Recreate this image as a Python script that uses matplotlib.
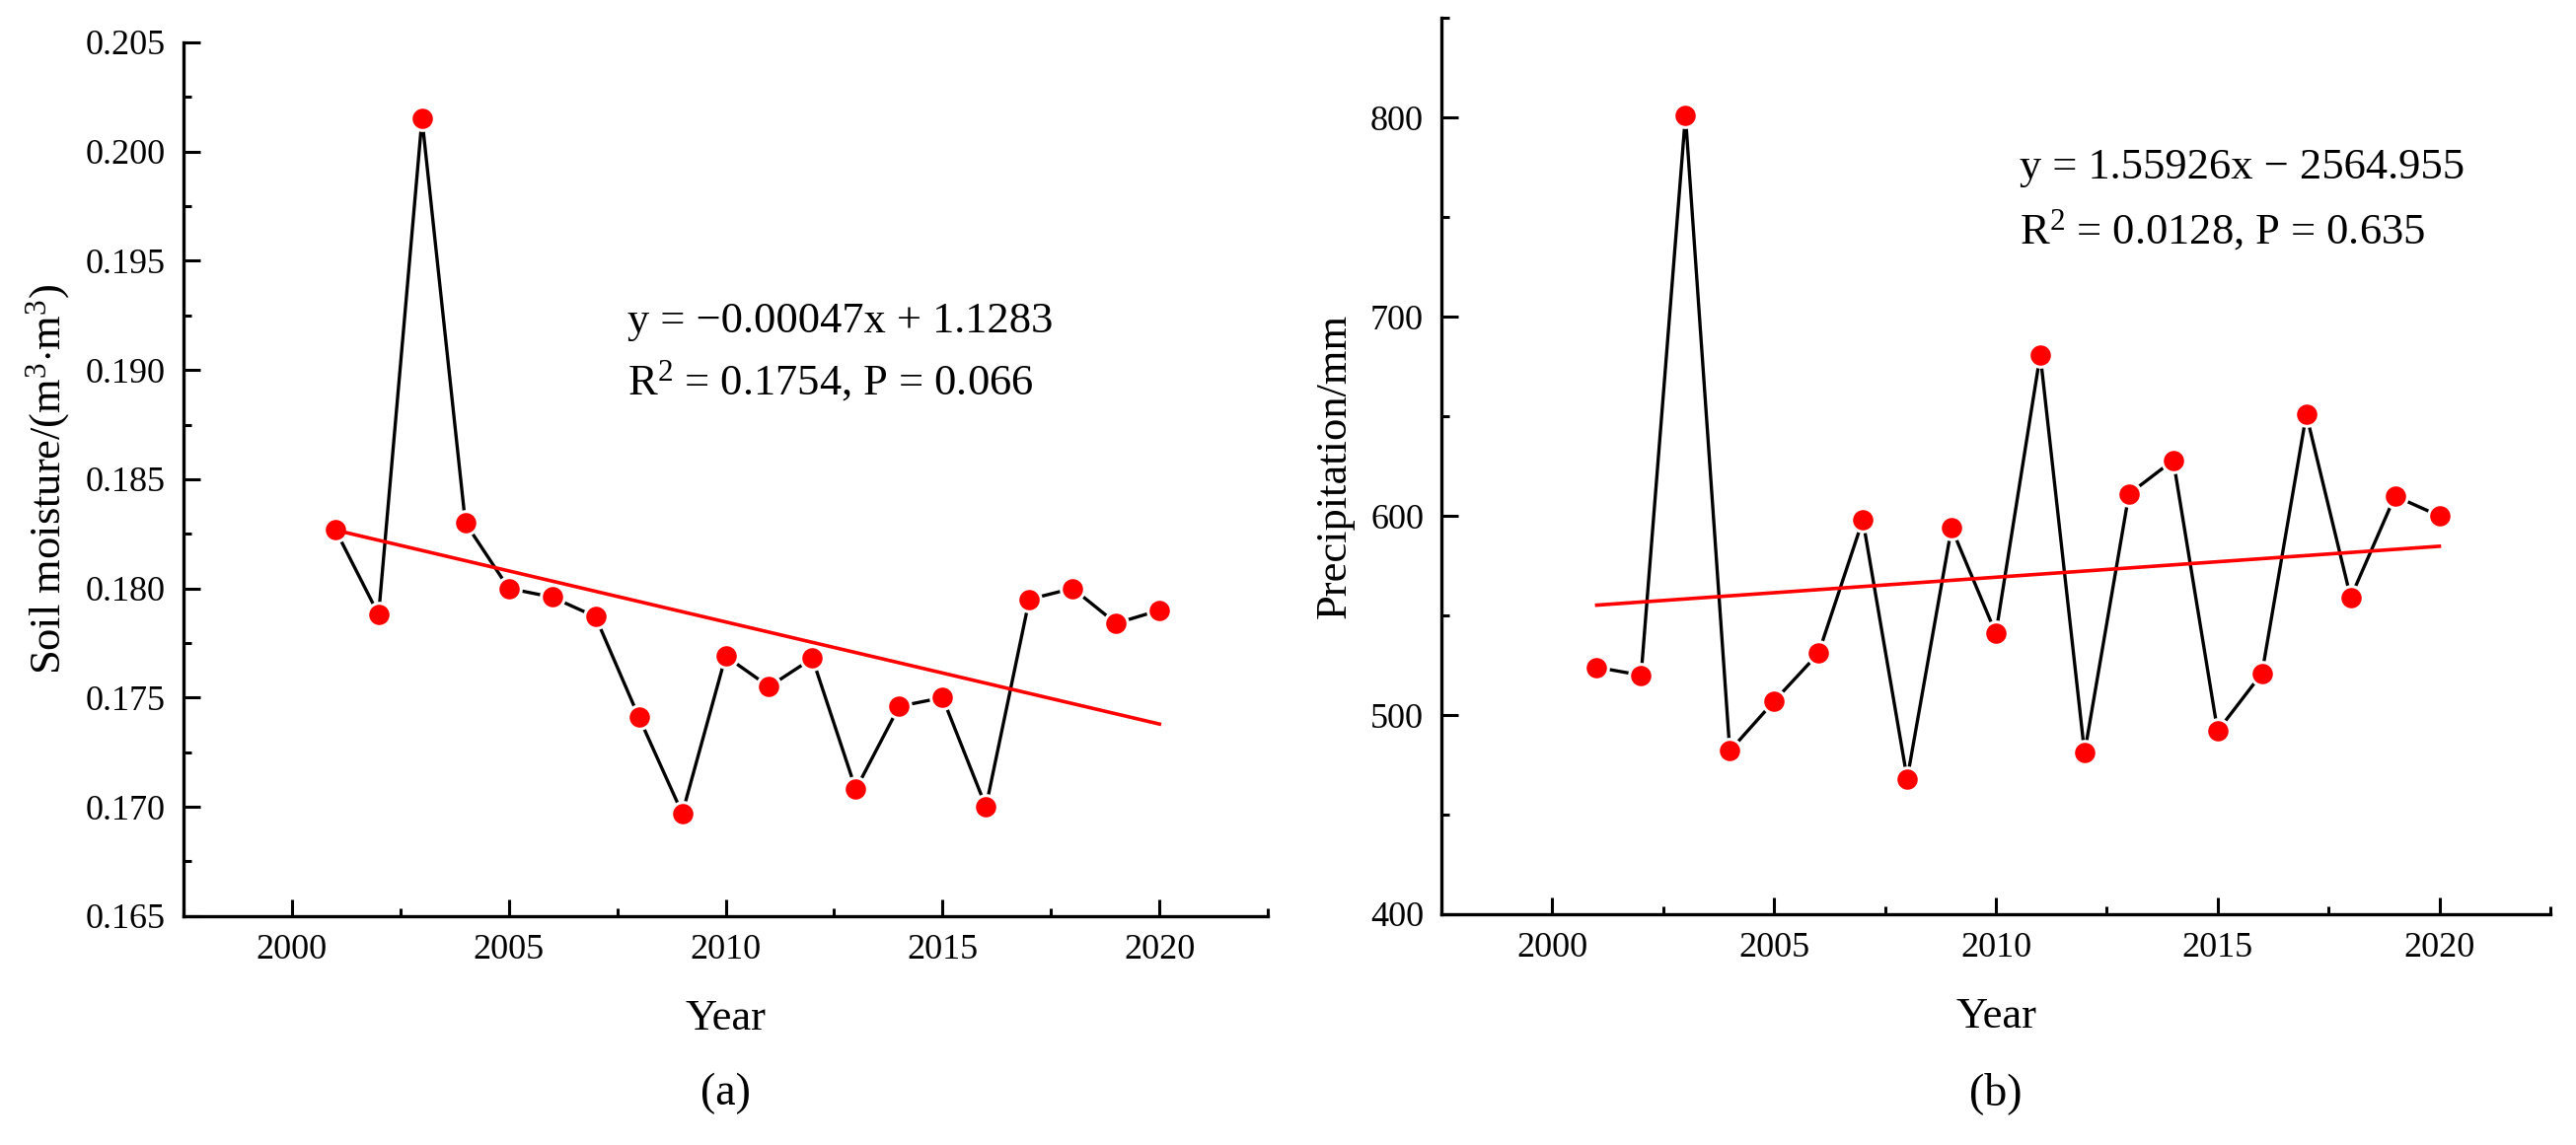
import numpy as np
import matplotlib
matplotlib.use("Agg")
import matplotlib.pyplot as plt
from matplotlib.ticker import MultipleLocator, FormatStrFormatter

plt.rcParams['font.family'] = ['Liberation Serif', 'DejaVu Serif']
plt.rcParams['mathtext.fontset'] = 'custom'
plt.rcParams['mathtext.rm'] = 'Liberation Serif'
plt.rcParams['mathtext.it'] = 'Liberation Serif:italic'
plt.rcParams['mathtext.bf'] = 'Liberation Serif:bold'

years = list(range(2001, 2021))
soil_moisture = [0.1827, 0.1788, 0.2015, 0.1830, 0.1800, 0.1796, 0.1787, 0.1741,
                 0.1697, 0.1769, 0.1755, 0.1768, 0.1708, 0.1746, 0.1750, 0.1700,
                 0.1795, 0.1800, 0.1784, 0.1790]
precipitation = [524, 520, 801, 482, 507, 531, 598, 468, 594, 541,
                 681, 481, 611, 628, 492, 521, 651, 559, 610, 600]

eq_a = ["y = \u22120.00047x + 1.1283", r"R$^{2}$ = 0.1754, P = 0.066"]
eq_b = ["y = 1.55926x \u2212 2564.955", r"R$^{2}$ = 0.0128, P = 0.635"]

fig = plt.figure(figsize=(26.11, 11.61), dpi=100)
ax1 = fig.add_axes([0.0712, 0.200, 0.4210, 0.763])
ax2 = fig.add_axes([0.5596, 0.2016, 0.4304, 0.7825])

def style(ax, ylim, ymaj, ymin, fmt):
    ax.set_xlim(1997.5, 2022.5)
    ax.set_ylim(*ylim)
    ax.xaxis.set_major_locator(MultipleLocator(5))
    ax.xaxis.set_minor_locator(MultipleLocator(2.5))
    ax.yaxis.set_major_locator(MultipleLocator(ymaj))
    ax.yaxis.set_minor_locator(MultipleLocator(ymin))
    ax.yaxis.set_major_formatter(FormatStrFormatter(fmt))
    for s in ['top', 'right']:
        ax.spines[s].set_visible(False)
    for s in ['left', 'bottom']:
        ax.spines[s].set_linewidth(2.4)
    ax.tick_params(which='major', direction='in', length=12, width=2.2,
                   labelsize=26, pad=13)
    ax.tick_params(which='minor', direction='in', length=6, width=2.2)

def draw(ax, y):
    x = np.array(years, dtype=float)
    yv = np.array(y, dtype=float)
    ax.plot(x, yv, color='black', lw=2.4, zorder=2)
    ax.plot(x, yv, linestyle='none', marker='o', markersize=17,
            markerfacecolor='red', markeredgecolor='white',
            markeredgewidth=2.2, zorder=3)
    k, b = np.polyfit(x, yv, 1)
    xs = np.array([x[0], x[-1]])
    ax.plot(xs, k * xs + b, color='red', lw=2.6, zorder=4)

draw(ax1, soil_moisture)
style(ax1, (0.165, 0.205), 0.005, 0.0025, '%.3f')
ax1.set_xlabel('Year', fontsize=32, labelpad=24)
ax1.set_ylabel(r'Soil moisture/(m$^{3}$$\cdot$m$^{3}$)', fontsize=32, labelpad=10)
ax1.text(0.4095, 0.680, eq_a[0], transform=ax1.transAxes, fontsize=32,
         ha='left', va='center')
ax1.text(0.4095, 0.613, eq_a[1], transform=ax1.transAxes, fontsize=32,
         ha='left', va='center')

draw(ax2, precipitation)
style(ax2, (400, 850), 100, 50, '%d')
ax2.set_xlabel('Year', fontsize=32, labelpad=24)
ax2.set_ylabel('Precipitation/mm', fontsize=32, labelpad=12)
ax2.text(0.521, 0.833, eq_b[0], transform=ax2.transAxes, fontsize=32,
         ha='left', va='center')
ax2.text(0.521, 0.764, eq_b[1], transform=ax2.transAxes, fontsize=32,
         ha='left', va='center')

fig.text(0.2817, 0.045, '(a)', fontsize=33, ha='center', va='center')
fig.text(0.7748, 0.045, '(b)', fontsize=33, ha='center', va='center')

fig.savefig('out.png', dpi=100, facecolor='white')
